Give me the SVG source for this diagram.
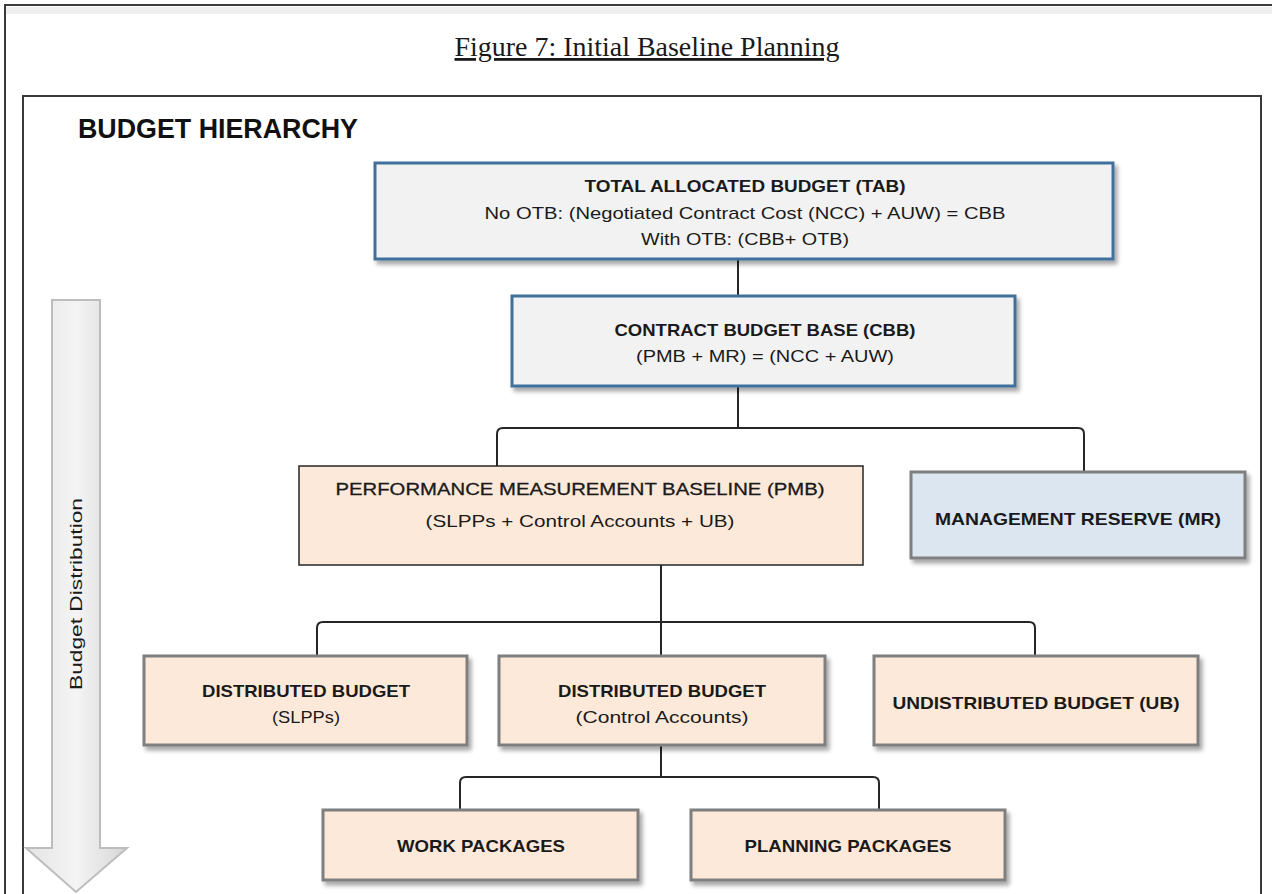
<svg xmlns="http://www.w3.org/2000/svg" width="1272" height="894" viewBox="0 0 1272 894">
<defs>
<filter id="sh" x="-10%" y="-20%" width="125%" height="150%">
<feDropShadow dx="3" dy="4" stdDeviation="2.2" flood-color="#000" flood-opacity="0.35"/>
</filter>
<linearGradient id="ag" x1="0" y1="0" x2="1" y2="0">
<stop offset="0" stop-color="#E4E4E4"/>
<stop offset="0.5" stop-color="#F4F4F4"/>
<stop offset="1" stop-color="#D6D6D6"/>
</linearGradient>
<style>
.frame{fill:none;stroke:#3a3a3a;stroke-width:2}
.blue{fill:#F2F2F2;stroke:#41719C;stroke-width:3;filter:url(#sh)}
.peach{fill:#FDE9D9;stroke:#7F7F7F;stroke-width:3;filter:url(#sh)}
.pmb{fill:#FDE9D9;stroke:#262626;stroke-width:1.5}
.mr{fill:#DCE6F1;stroke:#7F7F7F;stroke-width:3;filter:url(#sh)}
.t{font-family:"Liberation Sans",Arial,sans-serif;font-size:17px;fill:#1a1a1a;text-anchor:middle}
.b{font-weight:bold}
.conn{fill:none;stroke:#262626;stroke-width:2}
</style>
</defs>
<rect width="1272" height="894" fill="#FFFFFF"/>
<rect x="6" y="7" width="1266" height="7" fill="#EFEFEF"/>
<path class="frame" d="M5,894 V5 H1272"/>
<path class="frame" d="M23,894 V96 H1261 V894"/>
<text x="647" y="56" font-family="Liberation Serif,'Times New Roman',serif" font-size="28" fill="#1a1a1a" text-anchor="middle" text-decoration="underline" textLength="385" lengthAdjust="spacingAndGlyphs">Figure 7: Initial Baseline Planning</text>
<text x="78" y="138" font-family="Liberation Sans,Arial,sans-serif" font-size="27" font-weight="bold" fill="#111" textLength="280" lengthAdjust="spacingAndGlyphs">BUDGET HIERARCHY</text>

<g id="budget-distribution-arrow">
<path d="M52,300 H100 V848 H127 L76,892 L26,848 H52 Z" fill="url(#ag)" stroke="#BDBDBD" stroke-width="2"/>
<text class="t" transform="translate(82,594) rotate(-90)" font-size="18" textLength="192" lengthAdjust="spacingAndGlyphs">Budget Distribution</text>
</g>

<g id="connectors">
<path class="conn" d="M738,260 V296"/>
<path class="conn" d="M738,387 V428"/>
<path class="conn" d="M497,466 V434 Q497,428 503,428 H1078 Q1084,428 1084,434 V471"/>
<path class="conn" d="M661,565 V656"/>
<path class="conn" d="M317,656 V628 Q317,622 323,622 H1029 Q1035,622 1035,628 V656"/>
<path class="conn" d="M661,746 V777"/>
<path class="conn" d="M460,810 V783 Q460,777 466,777 H873 Q879,777 879,783 V810"/>
</g>

<g id="tab">
<rect class="blue" x="375" y="163" width="738" height="96"/>
<text class="t b" x="745" y="192" textLength="321" lengthAdjust="spacingAndGlyphs">TOTAL ALLOCATED BUDGET (TAB)</text>
<text class="t" x="745" y="219" textLength="521" lengthAdjust="spacingAndGlyphs">No OTB: (Negotiated Contract Cost (NCC) + AUW) = CBB</text>
<text class="t" x="745" y="245" textLength="208" lengthAdjust="spacingAndGlyphs">With OTB: (CBB+ OTB)</text>
</g>

<g id="cbb">
<rect class="blue" x="512" y="296" width="503" height="90"/>
<text class="t b" x="765" y="336" textLength="301" lengthAdjust="spacingAndGlyphs">CONTRACT BUDGET BASE (CBB)</text>
<text class="t" x="765" y="362" textLength="258" lengthAdjust="spacingAndGlyphs">(PMB + MR) = (NCC + AUW)</text>
</g>

<g id="pmb">
<rect class="pmb" x="299" y="466" width="564" height="99"/>
<text class="t" x="580" y="495" textLength="489" lengthAdjust="spacingAndGlyphs" style="stroke:#1a1a1a;stroke-width:0.3">PERFORMANCE MEASUREMENT BASELINE (PMB)</text>
<text class="t" x="580" y="527" textLength="309" lengthAdjust="spacingAndGlyphs">(SLPPs + Control Accounts + UB)</text>
</g>

<g id="mr">
<rect class="mr" x="911" y="472" width="334" height="86"/>
<text class="t b" x="1078" y="525" textLength="286" lengthAdjust="spacingAndGlyphs">MANAGEMENT RESERVE (MR)</text>
</g>

<g id="db-slpps">
<rect class="peach" x="144" y="656" width="323" height="89"/>
<text class="t b" x="306" y="697" textLength="208" lengthAdjust="spacingAndGlyphs">DISTRIBUTED BUDGET</text>
<text class="t" x="306" y="723" textLength="68" lengthAdjust="spacingAndGlyphs">(SLPPs)</text>
</g>

<g id="db-ca">
<rect class="peach" x="499" y="656" width="326" height="89"/>
<text class="t b" x="662" y="697" textLength="208" lengthAdjust="spacingAndGlyphs">DISTRIBUTED BUDGET</text>
<text class="t" x="662" y="723" textLength="173" lengthAdjust="spacingAndGlyphs">(Control Accounts)</text>
</g>

<g id="ub">
<rect class="peach" x="874" y="656" width="324" height="89"/>
<text class="t b" x="1036" y="709" textLength="287" lengthAdjust="spacingAndGlyphs">UNDISTRIBUTED BUDGET (UB)</text>
</g>

<g id="wp">
<rect class="peach" x="323" y="810" width="315" height="70"/>
<text class="t b" x="481" y="852" textLength="168" lengthAdjust="spacingAndGlyphs">WORK PACKAGES</text>
</g>

<g id="pp">
<rect class="peach" x="691" y="810" width="314" height="70"/>
<text class="t b" x="848" y="852" textLength="207" lengthAdjust="spacingAndGlyphs">PLANNING PACKAGES</text>
</g>
</svg>
